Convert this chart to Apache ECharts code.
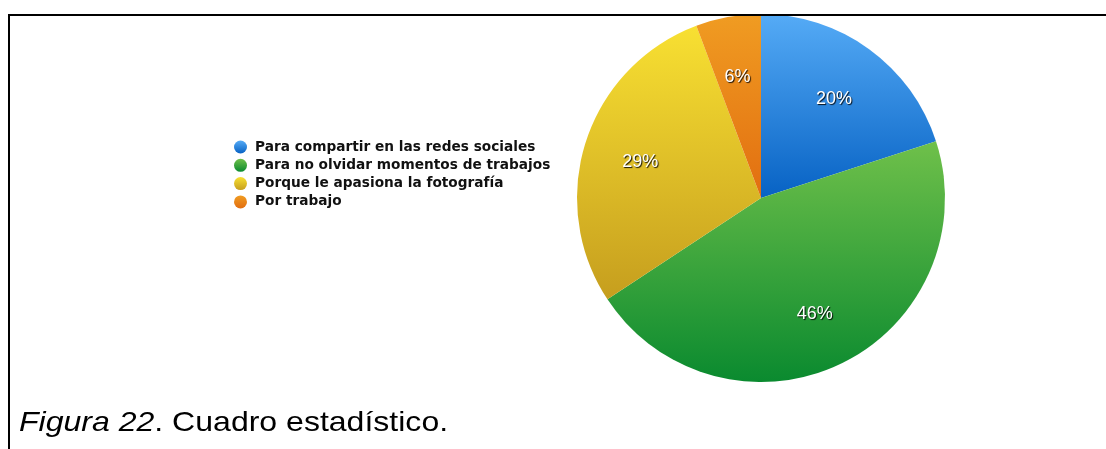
<!DOCTYPE html>
<html>
<head>
<meta charset="utf-8">
<script src="https://cdn.jsdelivr.net/npm/echarts@6/dist/echarts.min.js"></script>
<style>
html,body{margin:0;padding:0;background:#fff;}
#chart{width:1106px;height:449px;}
</style>
</head>
<body>
<div id="chart"></div>
<script>
const categories = [
  "Para compartir en las redes sociales",
  "Para no olvidar momentos de trabajos",
  "Porque le apasiona la fotografía",
  "Por trabajo"
];
const values = [7, 16, 10, 2];
const labels = ["20%", "46%", "29%", "6%"];
const topColors = ["#55abf6", "#6fc04a", "#f8e032", "#f09c22"];
const bottomColors = ["#0762c4", "#0a8a2f", "#c69e1e", "#e26e10"];

const chart = echarts.init(document.getElementById('chart'), null, {renderer: 'canvas'});

function grad(i) {
  return new echarts.graphic.LinearGradient(0, 0, 0, 1, [
    {offset: 0, color: topColors[i]},
    {offset: 1, color: bottomColors[i]}
  ]);
}

const center = [761, 198];
const R = 184;

const option = {
  animation: false,
  backgroundColor: '#fff',
  legend: {
    orient: 'vertical',
    left: 229,
    top: 135,
    icon: 'circle',
    itemWidth: 13,
    itemHeight: 13,
    itemGap: 4.3,
    data: categories,
    textStyle: {
      fontFamily: 'DejaVu Sans, sans-serif',
      fontSize: 13.7,
      lineHeight: 13,
      fontWeight: 'bold',
      color: '#111',
      padding: [0, 0, 0, 3]
    }
  },
  series: [
    {
      type: 'pie',
      center: center,
      radius: [0, R],
      startAngle: 90,
      clockwise: true,
      silent: true,
      label: {show: false},
      labelLine: {show: false},
      data: categories.map((c, i) => ({
        name: c,
        value: values[i],
        itemStyle: {color: grad(i)}
      }))
    },
    {
      type: 'pie',
      center: center,
      radius: [62, R],
      startAngle: 90,
      clockwise: true,
      silent: true,
      legendHoverLink: false,
      itemStyle: {color: 'rgba(0,0,0,0)'},
      label: {
        show: true,
        position: 'inside',
        offset: [-1, 3],
        formatter: p => labels[p.dataIndex],
        color: '#fff',
        fontFamily: 'Liberation Sans, Arial, sans-serif',
        fontSize: 18,
        textShadowColor: 'rgba(0,0,0,0.9)',
        textShadowBlur: 1,
        textShadowOffsetX: 1,
        textShadowOffsetY: 1
      },
      labelLine: {show: false},
      data: categories.map((c, i) => ({
        name: c + ' ',
        value: values[i]
      }))
    }
  ],
  graphic: [
    {
      type: 'line',
      shape: {x1: 9, y1: 15, x2: 1106, y2: 15},
      style: {stroke: '#000', lineWidth: 2},
      z: 100
    },
    {
      type: 'line',
      shape: {x1: 9, y1: 14, x2: 9, y2: 449},
      style: {stroke: '#000', lineWidth: 2},
      z: 100
    },
    {
      type: 'text',
      x: 19,
      y: 409,
      scaleX: 1.144,
      style: {
        text: '{i|Figura 22}{n|. Cuadro estadístico.}',
        rich: {
          i: {fontFamily: 'Liberation Sans, Arial, sans-serif', fontStyle: 'italic', fontSize: 28, fill: '#000'},
          n: {fontFamily: 'Liberation Sans, Arial, sans-serif', fontSize: 28, fill: '#000'}
        }
      }
    }
  ]
};
chart.setOption(option);
</script>
</body>
</html>
